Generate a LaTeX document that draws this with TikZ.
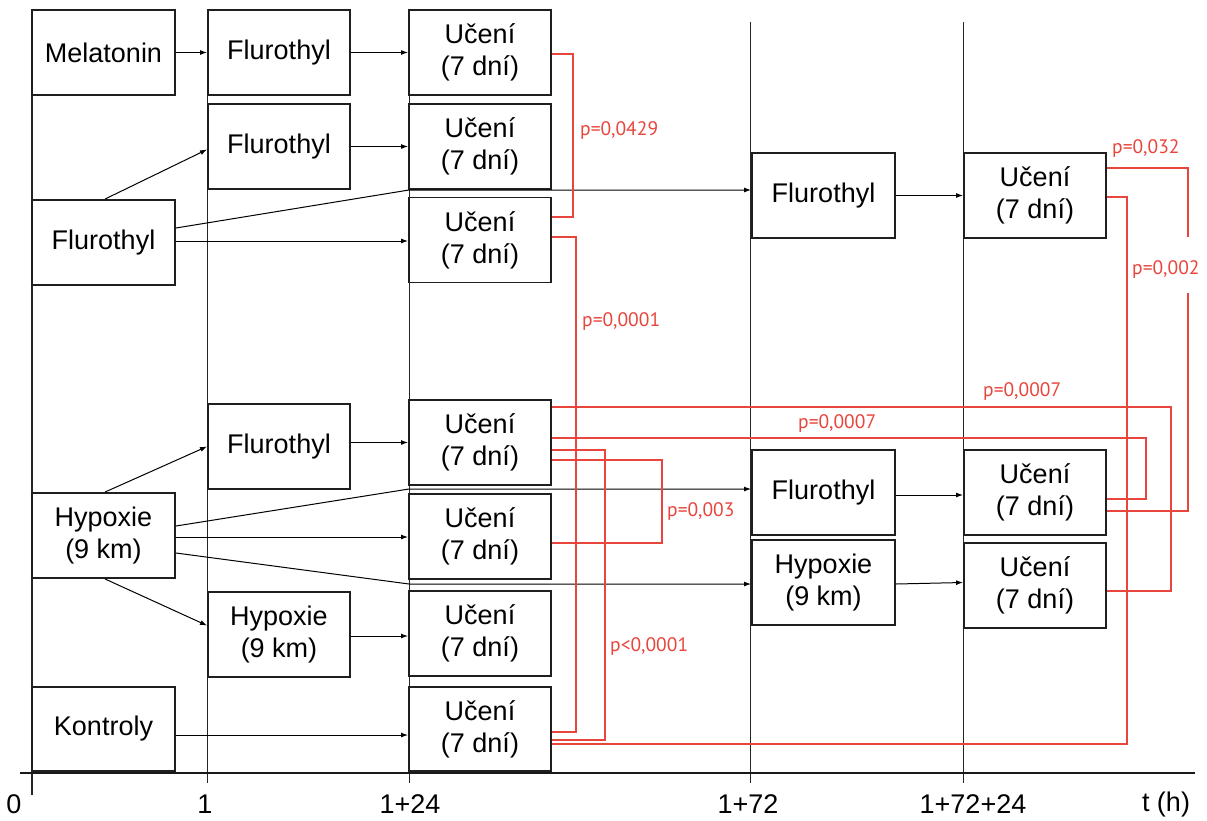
\documentclass[tikz,border=0pt]{standalone}
\usepackage{fontspec}
\setmainfont{Liberation Sans}
\newfontfamily\redfont{PT Sans}
\usetikzlibrary{arrows.meta}
\definecolor{pred}{HTML}{E8453C}
\begin{document}
\begin{tikzpicture}[x=1pt,y=-1pt,
 box/.style={draw=black!88, line width=1.9pt, fill=white, minimum height=85pt, inner sep=0pt, align=center, font=\fontsize{27}{32}\selectfont},
 boxA/.style={box, minimum width=143pt},
 boxB/.style={box, minimum width=142pt},
 conn/.style={line width=1pt, -{Latex[length=7pt,width=5pt]}},
 tline/.style={line width=0.9pt, black!85},
 pline/.style={pred, line width=1.9pt},
 plab/.style={text=pred, anchor=west, inner sep=0pt, font=\redfont\fontsize{19.5}{20}\selectfont},
 tlab/.style={font=\fontsize{27}{30}\selectfont, inner sep=0pt}]
\fill[white] (0,0) rectangle (1207,820);
\useasboundingbox (0,0) rectangle (1207,820);
% time lines
\draw[tline, line width=1.1pt] (32,10) -- (32,795);
\draw[tline] (207,10) -- (207,783);
\draw[tline] (409,10) -- (409,783);
\draw[tline] (750,22) -- (750,783);
\draw[tline] (963,22) -- (963,783);
% column A
\node[boxA] (mel) at (103.5,52.5) {Melatonin};
\node[boxA] (flA) at (103.5,242.5) {Flurothyl};
\node[boxA] (hyA) at (103.5,535.5) {Hypoxie\\(9 km)};
\node[boxA, minimum height=84pt] (kon) at (103.5,729) {Kontroly};
% column B
\node[boxB] (fl1) at (279,52.5) {Flurothyl};
\node[boxB] (fl2) at (279,146.5) {Flurothyl};
\node[boxB] (fl3) at (279,446.5) {Flurothyl};
\node[boxB] (hy4) at (279,634.5) {Hypoxie\\(9 km)};
% column C
\node[boxB] (c1) at (480,52.5) {Učení\\(7 dní)};
\node[boxB] (c2) at (480,146.5) {Učení\\(7 dní)};
\node[boxB] (c3) at (480,240) {Učení\\(7 dní)};
\node[boxB] (c4) at (480,442.5) {Učení\\(7 dní)};
\node[boxB] (c5) at (480,536.5) {Učení\\(7 dní)};
\node[boxB] (c6) at (480,633.5) {Učení\\(7 dní)};
\node[boxB, minimum height=84pt] (c7) at (480,729) {Učení\\(7 dní)};
% column D
\node[boxA] (d1) at (823.5,195.5) {Flurothyl};
\node[boxA] (d2) at (823.5,492.5) {Flurothyl};
\node[boxA] (d3) at (823.5,582.5) {Hypoxie\\(9 km)};
% column E
\node[boxB] (e1) at (1035,195.5) {Učení\\(7 dní)};
\node[boxB] (e2) at (1035,492.5) {Učení\\(7 dní)};
\node[boxB] (e3) at (1035,585.5) {Učení\\(7 dní)};
% axis
\draw[line width=2.8pt, black!90] (20,773) -- (1195,773);
\node[tlab] (t0) at (14,804) {0};
\node[tlab] (t1) at (205,804) {1};
\node[tlab] (t2) at (410,804) {1+24};
\node[tlab] (t3) at (748,804) {1+72};
\node[tlab] (t4) at (973,804) {1+72+24};
\node[tlab] (t5) at (1166,804) {t (h)};
% bend coordinates
\coordinate (k1) at (409,190);
\coordinate (k2) at (409,489);
\coordinate (k3) at (409,584);
\coordinate (g1) at (1188,237);
\coordinate (g2) at (1188,293);
% black connectors
\draw[conn] (mel.east) -- (fl1.west);
\draw[conn] (fl1.east) -- (c1.west);
\draw[conn] ([xshift=1.5pt]flA.north) -- ([yshift=-3pt]fl2.west);
\draw[conn] (fl2.east) -- (c2.west);
\draw[conn] ([yshift=14.5pt]flA.east) -- (k1) -- (d1.west |- k1);
\draw[conn] ([yshift=1.5pt]flA.east) -- ([yshift=1.5pt]flA.east -| c3.west);
\draw[conn] ([xshift=1.5pt]hyA.north) -- (fl3.west);
\draw[conn] (fl3.east |- c4.west) -- (c4.west);
\draw[conn] ([yshift=9.5pt]hyA.east) -- (k2) -- (d2.west |- k2);
\draw[conn] ([yshift=-1.5pt]hyA.east) -- ([yshift=-1.5pt]hyA.east -| c5.west);
\draw[conn] ([yshift=-17.5pt]hyA.east) -- (k3) -- (d3.west |- k3);
\draw[conn] ([xshift=1.5pt]hyA.south) -- ([yshift=9pt]hy4.west);
\draw[conn] ([yshift=-1.5pt]hy4.east) -- ([yshift=-1.5pt]hy4.east -| c6.west);
\draw[conn] ([yshift=-6pt]kon.east) -- ([yshift=-6pt]kon.east -| c7.west);
\draw[conn] (d1.east) -- (e1.west);
\draw[conn] ([yshift=-2.5pt]d2.east) -- ([yshift=-2.5pt]e2.west);
\draw[conn] ([yshift=-1.5pt]d3.east) -- (d3.east -| e3.west);
% red brackets
\draw[pline] ([yshift=-1.5pt]c1.east) -- ++(21,0) |- ([yshift=23pt]c3.east);
\draw[pline] ([yshift=3pt]c3.east) -- ++(24,0) |- ([yshift=-3pt]c7.east);
\draw[pline] ([yshift=-7.5pt]c4.east) -- ++(53,0) |- ([yshift=-11pt]c7.east);
\draw[pline] ([yshift=-17.5pt]c4.east) -- ++(110,0) |- ([yshift=-6.5pt]c5.east);
\draw[pline] ([yshift=35.5pt]c4.east) -- ++(619,0) |- ([yshift=-5.5pt]e3.east);
\draw[pline] ([yshift=4.5pt]c4.east) -- ++(594,0) |- ([yshift=-6.5pt]e2.east);
\draw[pline] ([yshift=27.5pt]e1.east) -| (g1);
\draw[pline] (g2) |- ([yshift=-18.5pt]e2.east);
\draw[pline] ([yshift=-1.5pt]e1.east) -- ++(20,0) |- ([yshift=-15pt]c7.east);
% p labels
\node[plab] (p1) at (580,131) {p=0,0429};
\node[plab] (p2) at (582,321) {p=0,0001};
\node[plab] (p3) at (610,646) {p<0,0001};
\node[plab] (p4) at (667,511) {p=0,003};
\node[plab] (p5) at (983,391) {p=0,0007};
\node[plab] (p6) at (798,423) {p=0,0007};
\node[plab] (p7) at (1112,149) {p=0,032};
\node[plab] (p8) at (1132,270) {p=0,002};
\end{tikzpicture}
\end{document}
